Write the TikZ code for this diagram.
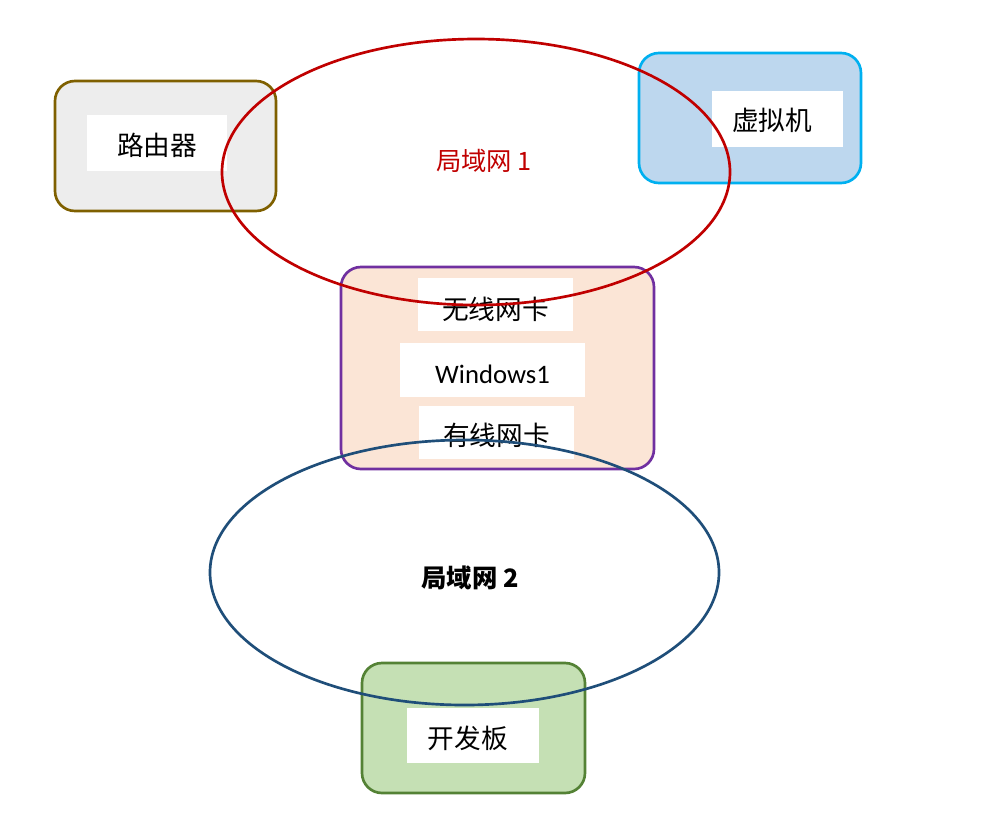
\documentclass[tikz,border=0pt]{standalone}
\usepackage{fontspec}
\setmainfont{Carlito}
\newfontfamily\cjk{Noto Sans CJK SC}
\usetikzlibrary{shapes.geometric}
\definecolor{routerfill}{HTML}{EDEDED}
\definecolor{routerline}{HTML}{7F6000}
\definecolor{vmfill}{HTML}{BDD7EE}
\definecolor{vmline}{HTML}{00B0F0}
\definecolor{winfill}{HTML}{FBE5D6}
\definecolor{winline}{HTML}{7030A0}
\definecolor{devfill}{HTML}{C5E0B4}
\definecolor{devline}{HTML}{548235}
\definecolor{lanred}{HTML}{C00000}
\definecolor{lanblue}{HTML}{1F4E79}
\newcommand{\lowered}[2]{\raisebox{-#1}[\height][\depth]{#2}}
\tikzset{
  devbox/.style={rectangle, rounded corners=15pt, line width=2pt, inner sep=0pt, outer sep=0pt},
  label box/.style={rectangle, fill=white, inner sep=0pt, outer sep=0pt, font=\cjk\fontsize{20}{24}\selectfont},
  lan/.style={ellipse, draw, line width=2pt, inner sep=0pt, outer sep=0pt},
  lantext/.style={font=\cjk\fontsize{19}{23}\selectfont}
}
\begin{document}
\begin{tikzpicture}[x=0.75pt, y=-0.75pt]
\useasboundingbox (0,0) rectangle (1000,819);
% devices
\node[devbox, draw=routerline, fill=routerfill, minimum width=165.75pt, minimum height=97.5pt] (router) at (165.5,146) {};
\node[label box, minimum width=105pt, minimum height=42pt] (routerlabel) at (157,143) {\lowered{2pt}{路由器}};
\node[devbox, draw=vmline, fill=vmfill, minimum width=166.5pt, minimum height=97.5pt] (vm) at (750,118) {};
\node[label box, minimum width=98.25pt, minimum height=42pt] (vmlabel) at (777.5,119) {\hspace{-8pt}\lowered{1pt}{虚拟机}};
\node[devbox, draw=winline, fill=winfill, minimum width=234.75pt, minimum height=151.5pt] (win) at (497.5,368) {};
\node[label box, minimum width=116.25pt, minimum height=39.75pt] (wifi) at (495.5,304.5) {\lowered{3.5pt}{无线网卡}};
\node[label box, minimum width=138.75pt, minimum height=40.5pt, font=\fontsize{20}{24}\selectfont] (winname) at (492.5,370) {\lowered{3.5pt}{Windows1}};
\node[label box, minimum width=116.25pt, minimum height=39.75pt] (eth) at (496.5,432.5) {\lowered{2pt}{有线网卡}};
\node[devbox, draw=devline, fill=devfill, minimum width=167.25pt, minimum height=97.5pt] (dev) at (473.5,728) {};
\node[label box, minimum width=99pt, minimum height=41.25pt] (devlabel) at (473,735.5) {\hspace{-8pt}\lowered{2pt}{开发板}};
% networks
\node[lan, draw=lanred, minimum width=381pt, minimum height=199.5pt] (lan1) at (476,172) {};
\node[lan, draw=lanblue, minimum width=381.75pt, minimum height=198.75pt] (lan2) at (464.5,572.5) {};
\node[lantext, text=lanred] (lan1label) at (484,161) {局域网 1};
\node[lantext, font=\cjk\bfseries\fontsize{19}{23}\selectfont] (lan2label) at (470,578) {局域网 2};
\end{tikzpicture}
\end{document}
